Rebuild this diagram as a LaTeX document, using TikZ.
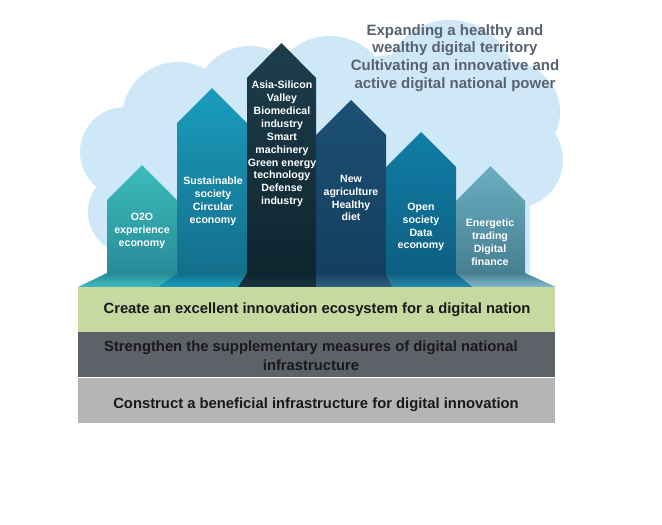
\documentclass[tikz,border=0pt]{standalone}
\usepackage{fontspec}
\setmainfont{Liberation Sans}
\begin{document}
\begin{tikzpicture}[x=1pt,y=-1pt,
  arrtxt/.style={text=white,align=center,inner sep=0pt,font=\fontsize{10.6}{12.9}\selectfont\bfseries},
  bandtxt/.style={text=black!90,align=center,inner sep=0pt,font=\fontsize{14.8}{19}\selectfont\bfseries},
  toptxt/.style={text=topgrey,align=center,inner sep=0pt,font=\fontsize{15}{17.8}\selectfont\bfseries}]
\definecolor{cloud}{RGB}{207,232,248}
\definecolor{topgrey}{RGB}{88,98,110}
\definecolor{aAt}{RGB}{59,188,188}\definecolor{aAb}{RGB}{40,140,152}
\definecolor{aBt}{RGB}{26,156,188}\definecolor{aBb}{RGB}{20,111,140}
\definecolor{aCt}{RGB}{29,62,76}\definecolor{aCb}{RGB}{15,37,48}
\definecolor{aDt}{RGB}{28,80,116}\definecolor{aDb}{RGB}{20,63,94}
\definecolor{aEt}{RGB}{16,126,165}\definecolor{aEb}{RGB}{13,95,130}
\definecolor{aFt}{RGB}{108,174,193}\definecolor{aFb}{RGB}{70,127,146}
\definecolor{bandgreen}{RGB}{198,217,161}
\definecolor{banddark}{RGB}{94,98,104}
\definecolor{bandlight}{RGB}{181,181,181}
\useasboundingbox (0,0) rectangle (662,525);
\fill[white] (0,0) rectangle (662,525);
% cloud
\begin{scope}[cloud]
\fill (125,152) circle[radius=45];
\fill (130,212) circle[radius=42];
\fill (178,118) circle[radius=56];
\fill (250,102) circle[radius=56];
\fill (330,96) circle[radius=60];
\fill (390,110) circle[radius=55];
\fill (450,86) circle[radius=66];
\fill (510,112) circle[radius=50];
\fill (515,160) circle[radius=48];
\fill (110,130) rectangle (530,273);
\end{scope}
% arrows
\newcommand\myarrow[5]{%
  \path[top color=#4,bottom color=#5] (#1,273) -- (#1,#3+35) -- ({(#1+#2)/2},#3) -- (#2,#3+35) -- (#2,273) -- cycle;}
\myarrow{107}{177}{165}{aAt}{aAb}
\myarrow{177}{247}{88}{aBt}{aBb}
\myarrow{247}{316}{43}{aCt}{aCb}
\myarrow{316}{386}{100}{aDt}{aDb}
\myarrow{386}{456}{132}{aEt}{aEb}
\myarrow{456}{525}{166}{aFt}{aFb}
% floor
\newcommand\myfloor[6]{%
  \path[top color=#5,bottom color=#6] (#1,273) -- (#2,273) -- (#4,287) -- (#3,287) -- cycle;}
\myfloor{107}{177}{78}{158}{aAb}{aAt}
\myfloor{177}{247}{158}{238}{aBb}{aBt}
\myfloor{247}{316}{238}{316}{aCb}{aCt!85!black}
\myfloor{316}{386}{316}{393}{aDb}{aDt!90!white}
\myfloor{386}{456}{393}{473}{aEb}{aEt!90!white}
\myfloor{456}{525}{473}{556}{aFb}{aFt!85!white}
% bands
\fill[bandgreen] (78,287) rectangle (555,332);
\fill[banddark] (78,332) rectangle (555,377);
\fill[bandlight] (78,377) rectangle (555,423);
\draw[white,line width=0.8pt] (78,377) -- (555,377);
% arrow texts
\node[arrtxt] (t1) at (142,231) {O2O\\experience\\economy};
\node[arrtxt] (t2) at (213,201) {Sustainable\\society\\Circular\\economy};
\node[arrtxt] (t3) at (282,144) {Asia-Silicon\\Valley\\Biomedical\\industry\\Smart\\machinery\\Green energy\\technology\\Defense\\industry};
\node[arrtxt] (t4) at (351,198) {New\\agriculture\\Healthy\\diet};
\node[arrtxt] (t5) at (421,227) {Open\\society\\Data\\economy};
\node[arrtxt] (t6) at (490,242) {Energetic\\trading\\Digital\\finance};
% top text
\node[toptxt] (top) at (455,58) {Expanding a healthy and\\wealthy digital territory\\Cultivating an innovative and\\active digital national power};
% band texts
\node[bandtxt] (b1) at (317,310) {Create an excellent innovation ecosystem for a digital nation};
\node[bandtxt] (b2) at (311,356) {Strengthen the supplementary measures of digital national\\infrastructure};
\node[bandtxt] (b3) at (316,405) {Construct a beneficial infrastructure for digital innovation};
\end{tikzpicture}
\end{document}
